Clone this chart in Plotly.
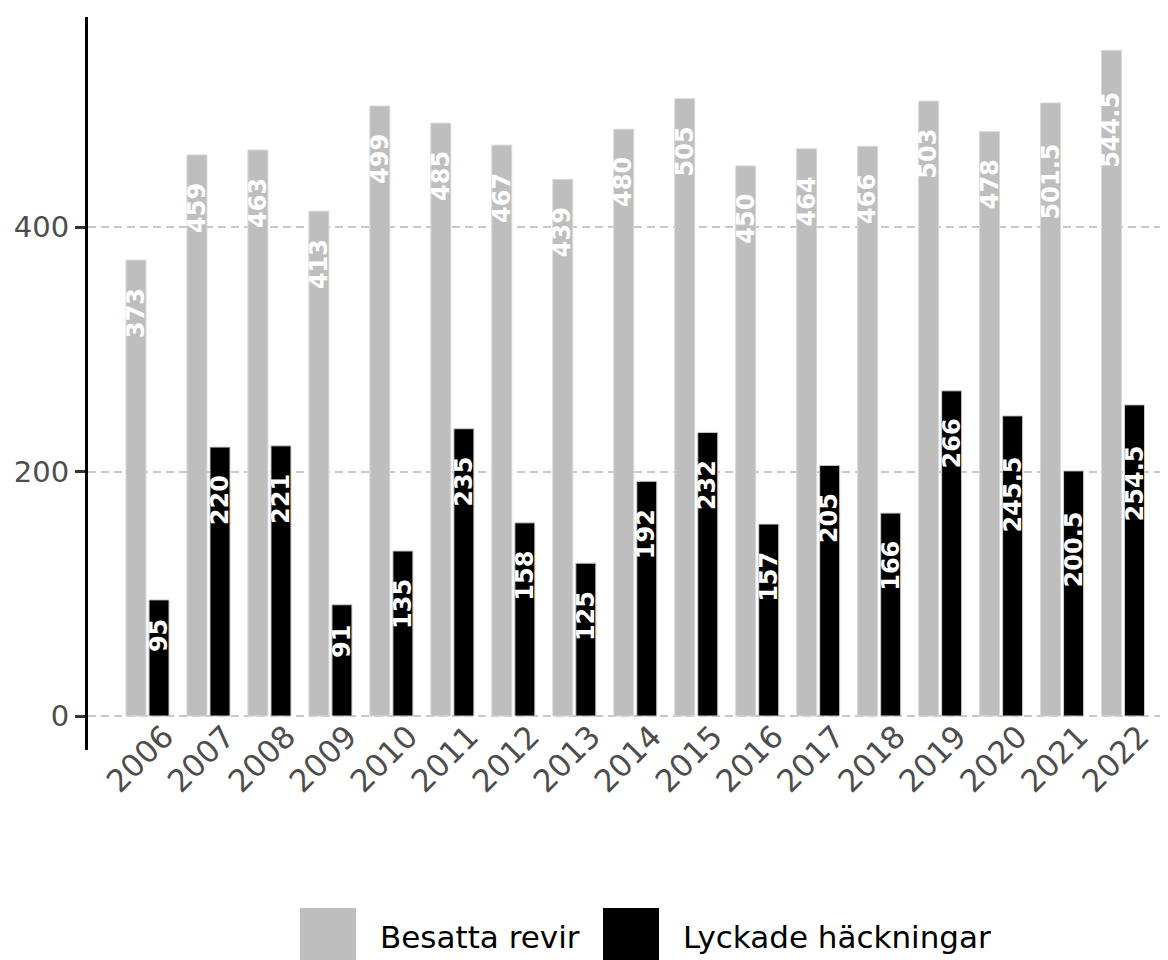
import plotly.graph_objects as go

years = list(range(2006, 2023))
besatta_revir = [373, 459, 463, 413, 499, 485, 467, 439, 480, 505, 450, 464, 466, 503, 478, 501.5, 544.5]
lyckade_hackningar = [95, 220, 221, 91, 135, 235, 158, 125, 192, 232, 157, 205, 166, 266, 245.5, 200.5, 254.5]
series_names = ["Besatta revir", "Lyckade häckningar"]
y_ticks = [0, 200, 400]

GRAY = "#bebebe"
BLACK = "#000000"
OFF = 8  # default page body margin
W, H = 1168 - OFF, 960 - OFF
# plot area in page pixels: left 88, right 1166, top 17, bottom 750
ML, MR, MT = 88 - OFF, 2, 17 - OFF
MB = H - (750 - OFF)
PW, PH = W - ML - MR, H - MT - MB

def fmt(v):
    return f"{v:g}"

def label_len(s, fs=24):
    return sum(0.38 * fs if c == "." else 0.696 * fs for c in s)

bar_w = 0.328
fig = go.Figure()
fig.add_trace(go.Bar(x=years, y=besatta_revir, name=series_names[0], width=bar_w, offset=-0.353,
                     marker=dict(color=GRAY, line=dict(color="#d9d9d9", width=1)), showlegend=False))
fig.add_trace(go.Bar(x=years, y=lyckade_hackningar, name=series_names[1], width=bar_w, offset=0.025,
                     marker=dict(color=BLACK, line=dict(color="#cccccc", width=1)), showlegend=False))

annotations = []
for vals, dx in ((besatta_revir, -0.189), (lyckade_hackningar, 0.189)):
    for yr, v in zip(years, vals):
        t = fmt(v)
        annotations.append(dict(x=yr + dx, y=v, xref="x", yref="y", text=t, showarrow=False,
                                textangle=-90, yanchor="top", xanchor="center",
                                yshift=-(0.5 * label_len(t) + 1),
                                font=dict(family="DejaVu Sans", size=24, color="white", weight="bold")))

def px_x(px):
    return (px - OFF - ML) / PW

def px_y(py):
    return (H - MB - (py - OFF)) / PH

shapes = []
legend_items = [(300, 356, 378, GRAY, series_names[0]), (603, 659, 681, BLACK, series_names[1])]
for x0, x1, tx, col, name in legend_items:
    shapes.append(dict(type="rect", xref="paper", yref="paper", x0=px_x(x0), x1=px_x(x1),
                       y0=px_y(908), y1=px_y(970), fillcolor=col, line=dict(width=0), layer="above"))
    annotations.append(dict(x=px_x(tx), y=px_y(937), xref="paper", yref="paper", text=name,
                            showarrow=False, xanchor="left", yanchor="middle",
                            font=dict(family="DejaVu Sans", size=31, color="#000000")))

fig.update_layout(
    width=W, height=H,
    margin=dict(l=ML, r=MR, t=MT, b=MB),
    plot_bgcolor="white", paper_bgcolor="white",
    barmode="overlay",
    annotations=annotations,
    shapes=shapes,
    xaxis=dict(type="linear", range=[2005.024, 2022.705], tickvals=years, ticktext=[str(y) for y in years],
               tickangle=-45, showgrid=False, showline=False, zeroline=False, ticks="",
               ticklabelstandoff=-39, ticklabelshift=17,
               tickfont=dict(family="DejaVu Sans", size=31, color="#4d4d4d")),
    yaxis=dict(range=[-27.8, 571.8], tickvals=y_ticks, showgrid=True, gridcolor="#c8c8c8",
               griddash="8px,5px", gridwidth=1.5, zeroline=False, showline=True, linecolor="black",
               linewidth=3, ticks="outside", ticklen=10, tickwidth=2.5, tickcolor="#333333",
               tickfont=dict(family="DejaVu Sans", size=29, color="#4d4d4d")),
)

fig.write_html("out.html")
